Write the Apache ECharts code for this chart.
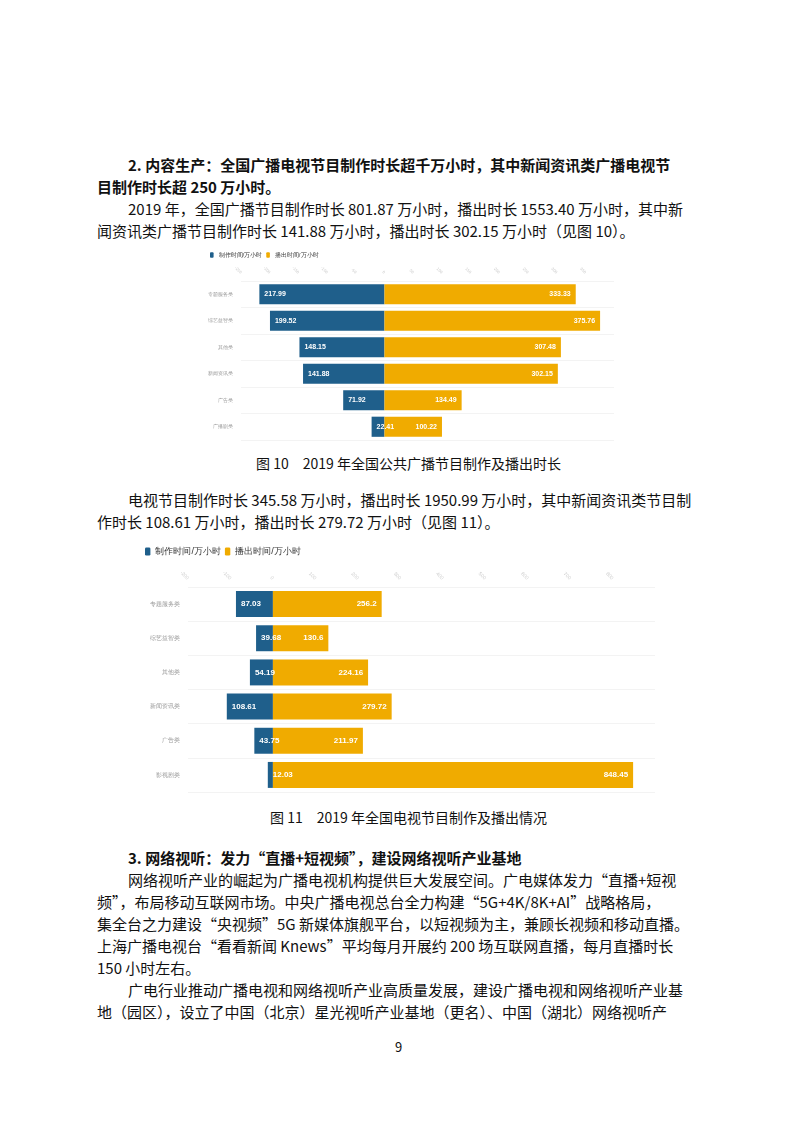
<!DOCTYPE html>
<html><head><meta charset="utf-8">
<script src="https://cdn.jsdelivr.net/npm/echarts@6/dist/echarts.min.js"></script>
<style>
body{margin:0;width:800px;height:1132px;position:relative;background:#fff;font-family:"Noto Sans CJK SC","Noto Sans",serif;color:#111;}
.t{position:absolute;font-size:15px;line-height:22px;white-space:nowrap;}
.b{font-weight:bold;}
.c{position:absolute;}
</style></head><body>
<div class="t b" style="left:128px;top:154px">2. 内容生产：全国广播电视节目制作时长超千万小时，其中新闻资讯类广播电视节</div>
<div class="t b" style="left:97px;top:176px">目制作时长超 250 万小时。</div>
<div class="t" style="left:128px;top:198px">2019 年，全国广播节目制作时长 801.87 万小时，播出时长 1553.40 万小时，其中新</div>
<div class="t" style="left:97px;top:220px">闻资讯类广播节目制作时长 141.88 万小时，播出时长 302.15 万小时（见图 10）。</div>
<div id="c1" class="c" style="left:205px;top:245px;width:420px;height:200px"></div>
<div class="t" style="left:256px;top:452px;font-size:14px">图 10　2019 年全国公共广播节目制作及播出时长</div>
<div class="t" style="left:128px;top:489px">电视节目制作时长 345.58 万小时，播出时长 1950.99 万小时，其中新闻资讯类节目制</div>
<div class="t" style="left:97px;top:511px">作时长 108.61 万小时，播出时长 279.72 万小时（见图 11）。</div>
<div id="c2" class="c" style="left:140px;top:540px;width:550px;height:262px"></div>
<div class="t" style="left:270px;top:806px;font-size:14px">图 11　2019 年全国电视节目制作及播出情况</div>
<div class="t b" style="left:128px;top:847px">3. 网络视听：发力“直播+短视频”，建设网络视听产业基地</div>
<div class="t" style="left:128px;top:869px">网络视听产业的崛起为广播电视机构提供巨大发展空间。广电媒体发力“直播+短视</div>
<div class="t" style="left:97px;top:891px">频”，布局移动互联网市场。中央广播电视总台全力构建“5G+4K/8K+AI”战略格局，</div>
<div class="t" style="left:97px;top:913px">集全台之力建设“央视频”5G 新媒体旗舰平台，以短视频为主，兼顾长视频和移动直播。</div>
<div class="t" style="left:97px;top:935px">上海广播电视台“看看新闻 Knews”平均每月开展约 200 场互联网直播，每月直播时长</div>
<div class="t" style="left:97px;top:957px">150 小时左右。</div>
<div class="t" style="left:128px;top:979px">广电行业推动广播电视和网络视听产业高质量发展，建设广播电视和网络视听产业基</div>
<div class="t" style="left:97px;top:1001px">地（园区），设立了中国（北京）星光视听产业基地（更名）、中国（湖北）网络视听产</div>
<div class="t" style="left:395px;top:1036px;font-size:13px">9</div>
<script>
const cats1 = ['专题服务类','综艺益智类','其他类','新闻资讯类','广告类','广播剧类'];
const prod1 = [217.99,199.52,148.15,141.88,71.92,22.41];
const play1 = [333.33,375.76,307.48,302.15,134.49,100.22];
const cats2 = ['专题服务类','综艺益智类','其他类','新闻资讯类','广告类','影视剧类'];
const prod2 = [87.03,39.68,54.19,108.61,43.75,12.03];
const play2 = [256.2,130.6,224.16,279.72,211.97,848.45];
const blue='#1f5f8b', gold='#f0ab00';
function opt(cats,prod,play,grid,min,max,interval,fs,legendFs,lfs){
  return {
    animation:false,
    legend:{left:0,top:2,itemWidth:legendFs*0.6,itemHeight:legendFs*0.9,itemGap:4,textStyle:{fontSize:legendFs,color:'#333'},
      data:['制作时间/万小时','播出时间/万小时']},
    grid:grid,
    xAxis:{type:'value',position:'top',min:min,max:max,interval:interval,
      axisLine:{show:false},axisTick:{show:false},splitLine:{show:false},
      axisLabel:{rotate:45,fontSize:fs-1,color:'#ccc',showMaxLabel:false}},
    yAxis:{type:'category',inverse:true,data:cats,axisLine:{show:false},axisTick:{show:false},
      splitLine:{show:true,lineStyle:{color:'#f3f3f3'}},
      axisLabel:{fontSize:fs,color:'#999'}},
    series:[
      {name:'制作时间/万小时',type:'bar',stack:'a',barWidth:'76%',itemStyle:{color:blue},
       data:prod.map(v=>-v),
       label:{show:true,position:'insideLeft',color:'#fff',fontWeight:'bold',fontSize:lfs,formatter:p=>String(-p.value)}},
      {name:'播出时间/万小时',type:'bar',stack:'a',barWidth:'76%',itemStyle:{color:gold},
       data:play,
       label:{show:true,position:'insideRight',color:'#fff',fontWeight:'bold',fontSize:lfs,formatter:p=>String(p.value)}}
    ]
  };
}
echarts.init(document.getElementById('c1')).setOption(opt(cats1,prod1,play1,{left:35,right:11,top:36,bottom:5},-250,400,50,5,6,7));
echarts.init(document.getElementById('c2')).setOption(opt(cats2,prod2,play2,{left:48,right:35,top:47,bottom:10},-200,900,100,6,9,8));
</script>
</body></html>
